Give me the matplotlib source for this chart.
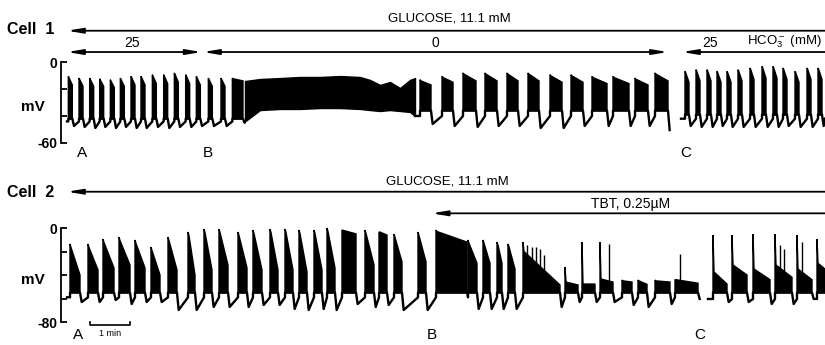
import matplotlib
matplotlib.use("Agg")
import matplotlib.pyplot as plt

plt.rcParams['font.family'] = ['Liberation Sans', 'DejaVu Sans']
plt.rcParams['mathtext.fontset'] = 'custom'
plt.rcParams['mathtext.rm'] = 'Liberation Sans'

# time in s from start of the records (scale bar = 1 min), membrane potential in mV
T_END = 1137

# ---------------- Cell 1 ----------------
# 25 mM HCO3-, short bursts
c1a_on = [2, 18, 34, 49, 65, 80, 96, 111, 128, 145, 161, 178, 194, 212, 231, 248]
c1a_off = [8, 24, 40, 55, 71, 86, 102, 117, 134, 151, 167, 184, 200, 218, 237, 264]
c1a_peak = [-10.6, -11.9, -11.9, -12.4, -13.1, -11.9, -10.6, -10.6, -9.4, -9.4, -8.1, -9.4, -10.6, -11.9, -11.9, -11.9]
c1a_knee = [-11.6, -12.9, -12.9, -13.4, -14.1, -12.9, -11.6, -11.6, -10.4, -10.4, -9.1, -10.4, -11.6, -12.9, -12.9, -12.4]
c1a_end = [-17, -18, -18, -18, -19, -18, -17, -17, -16, -16, -15, -16, -17, -18, -18, -14]
c1a_trough = [-47.4, -48.1, -48.9, -48.1, -48.9, -48.1, -48.9, -48.9, -48.1, -48.9, -48.1, -48.1, -47.4, -47.4, -47.4, -45]

# 0 HCO3-, continuous spiking
c1b_t = [267, 289.5, 319.5, 349.5, 379.5, 409.5, 439.5, 454.5, 469.5, 484.5, 499.5, 514.5, 522]
c1b_top = [-14.1, -12.6, -11.9, -11.1, -11.1, -10.4, -11.1, -13.3, -17, -14.8, -19.3, -13.3, -11.9]
c1b_bot = [-44, -35.6, -34.8, -34.8, -34.1, -34.1, -34.8, -35.6, -36.3, -35.6, -36.3, -37, -40]

# 0 HCO3-, long bursts
c1c_on = [529.5, 562.5, 594, 627, 660, 691.5, 724.5, 756, 787.5, 819, 852, 882]
c1c_off = [546, 579, 613.5, 645, 676.5, 708, 742.5, 774, 810, 843, 871.5, 901.5]
c1c_peak = [-13.1, -10.6, -8.1, -8.1, -8.1, -8.1, -9.4, -9.4, -10.6, -10.6, -11.9, -8.1]
c1c_knee = [-14, -11.5, -9, -9, -9, -9, -10.3, -10.3, -11.5, -11.5, -12.8, -9]
c1c_end = [-17, -15, -14, -14, -14, -14, -15, -15, -16, -16, -17, -14]
c1c_trough = [-45.9, -47.4, -48.1, -47.4, -47.4, -48.9, -48.9, -47.4, -47.4, -47.4, -47.4, -50.4]

# back to 25 mM HCO3-
c1d_on = [927, 943.5, 960, 975, 990, 1006.5, 1024.5, 1042.5, 1059, 1074, 1092, 1110, 1126.5]
c1d_off = [933, 949.5, 966, 981, 996, 1012.5, 1030.5, 1048.5, 1065, 1080, 1098, 1116, 1132.5]
c1d_peak = [-6.9, -5.7, -5.7, -6.9, -6.9, -5.7, -4.4, -3.2, -3.2, -4.4, -6.9, -4.4, -4.4]
c1d_knee = [-7.9, -6.7, -6.7, -7.9, -7.9, -6.7, -5.4, -4.2, -4.2, -5.4, -7.9, -5.4, -5.4]
c1d_end = [-15, -14, -14, -15, -15, -14, -13, -12, -12, -13, -15, -13, -13]
c1d_trough = [-47.4, -48.1, -48.1, -47.4, -48.1, -48.1, -48.1, -48.1, -48.1, -47.4, -48.1, -48.1, -47.4]

c1_cond_start = [0, 204, 922.5]
c1_cond_end = [202, 901.5, 1150]
c1_cond_label = ['25', '0', '25']
c1_cond_label_t = [98, 552, 964]
c1_marks = ['A', 'B', 'C']
c1_marks_t = [22.5, 211.5, 928.5]

# ---------------- Cell 2 ----------------
c2a_on = [4.5, 31.5, 54, 78, 102, 126, 151.5, 181.5, 205.5, 228, 256.5, 279, 304.5, 327, 348, 370.5,
          390, 412.5, 447, 468, 490.5, 526.5, 553.5, 601.5, 624, 645, 661.5, 684, 747, 772.5, 799.5,
          832.5, 856.5, 882, 912]
c2a_off = [19.5, 46.5, 70.5, 94.5, 117, 139.5, 165, 192, 217.5, 241.5, 270, 292.5, 316.5, 339, 360, 382.5,
           402, 433.5, 460.5, 480, 502.5, 538.5, 600, 615, 634.5, 652.5, 672, 739.5, 766.5, 792, 819,
           847.5, 870, 904.5, 946.5]
c2a_peak = [-13.6, -13.6, -9.4, -7.7, -10.2, -16.2, -7.7, -3.4, -0.9, -0.9, -3.4, -1.7, -0.9, -0.9, -1.7, -1.7,
            0, -1.7, -1.7, -3.4, -5.1, -3.4, -1.7, -10.2, -10.2, -11.9, -13.6, -11.9, -33.2, -11.9, -11.9,
            -44.3, -44.3, -44.3, -44]
c2a_knee = [-16.6, -16.6, -12.4, -10.7, -13.2, -19.2, -10.7, -6.4, -3.9, -3.9, -6.4, -4.7, -3.9, -3.9, -4.7, -4.7,
            -3, -2, -4.7, -3.5, -8, -6.4, -3, -13, -13, -14.5, -16, -20, -46, -47.7, -43.4,
            -45, -45, -45, -44]
c2a_end = [-40, -35.7, -34, -31.5, -34, -40, -35.7, -40, -35.7, -31.5, -34, -35.7, -35.7, -35.7, -37.4, -35.7,
           -34, -5, -31.5, -6, -28.9, -28.9, -12, -30, -30, -30, -35, -48.5, -48.5, -47.7, -46,
           -46, -48, -46, -47]
c2a_trough = [-63, -63, -61.3, -64.7, -63, -63, -69.8, -69.8, -67.2, -67.2, -67.2, -65.5, -65.5, -68.9, -69.8, -68.9,
              -69.8, -64.7, -67.2, -65.5, -69.8, -69.8, -55, -68.9, -68.9, -68.9, -68.9, -67.2, -63, -63, -63,
              -65.5, -67.2, -64.7, -60.4]

c2b_on = [969, 997.5, 1029, 1062, 1095, 1125]
c2b_off = [990, 1020, 1054.5, 1087.5, 1117.5, 1137]
c2b_peak = [-6, -6, -5.1, -5.1, -6, -9.4]
c2b_knee = [-37.4, -31.5, -34.9, -31.5, -34.9, -30]
c2b_end = [-47.7, -40, -44, -42, -44, -35]
c2b_trough = [-63, -63, -64.7, -64.7, -60.4, -55]

# single spikes riding on the TBT bursts
c2_spk_t = [690, 697.5, 703.5, 709.5, 715.5, 813, 919.5, 1069.5, 1075.5, 1102.5]
c2_spk_v = [-14.5, -16.2, -16.2, -17.9, -23, -13.6, -22.1, -14.5, -17.9, -11.9]

c2_tbt_start = 547
c2_marks = ['A', 'B', 'C']
c2_marks_t = [16.5, 547.5, 949.5]


def bursts(ax, on, off, peak, knee, end, trough, low, pre, t0, t1=None, kw=1.5, fall=2.5):
    xs, ys = [t0], [pre]
    for i in range(len(on)):
        ax.fill([on[i], on[i], on[i] + kw, off[i], off[i]],
                [low, peak[i], knee[i], end[i], low],
                color='k', lw=1.0, zorder=2, clip_on=False)
        f = fall
        if i + 1 < len(on):
            f = min(fall, (on[i + 1] - off[i]) / 2)
        xs += [on[i], on[i], off[i], off[i] + f]
        ys += [pre, low, low, trough[i]]
    if t1 is not None:
        xs.append(t1)
        ys.append(pre)
    ax.plot(xs, ys, color='k', lw=1.7, solid_joinstyle='round', zorder=2, clip_on=False)


def hline_arrow(ax, x0, x1, y, both=False):
    style = '<|-|>' if both else '-|>'
    if both:
        xy, xyt = (x1, y), (x0, y)
    else:
        xy, xyt = (x0, y), (x1, y)
    ax.annotate('', xy=xy, xytext=xyt, xycoords=('data', 'axes fraction'),
                textcoords=('data', 'axes fraction'), annotation_clip=False,
                arrowprops=dict(arrowstyle=style + ',head_length=0.9,head_width=0.15',
                                color='k', lw=1.3, shrinkA=0, shrinkB=0))


def style_axis(ax, lo):
    ax.set_xlim(0, T_END)
    ax.set_ylim(lo, 0)
    for s in ['top', 'right', 'bottom']:
        ax.spines[s].set_visible(False)
    ax.spines['left'].set_position(('outward', 4))
    ax.spines['left'].set_linewidth(1.3)
    ax.set_xticks([])
    ticks = list(range(lo, 1, 20))
    ax.set_yticks(ticks)
    ax.set_yticklabels([str(lo)] + [''] * (len(ticks) - 2) + ['0'], fontweight='bold')
    ax.tick_params(axis='y', direction='in', length=4, width=1.3, pad=3, labelsize=10)
    ax.set_ylabel('mV', rotation=0, fontsize=11, fontweight='bold', va='center', ha='center')
    ax.yaxis.set_label_coords(-0.045, 0.45)


fig = plt.figure(figsize=(8.25, 3.45), dpi=100)
ax1 = fig.add_axes([67 / 825, 1 - 143 / 345, 758 / 825, 81 / 345])
ax2 = fig.add_axes([67 / 825, 1 - 322 / 345, 758 / 825, 94 / 345])
style_axis(ax1, -60)
style_axis(ax2, -80)

# cell 1 traces
bursts(ax1, c1a_on, c1a_off, c1a_peak, c1a_knee, c1a_end, c1a_trough, -42, -44, 0, t1=c1b_t[0], kw=1)
ax1.fill_between(c1b_t, c1b_bot, c1b_top, color='k', lw=1.0, zorder=2)
bursts(ax1, c1c_on, c1c_off, c1c_peak, c1c_knee, c1c_end, c1c_trough, -36, -40, c1b_t[-1])
bursts(ax1, c1d_on, c1d_off, c1d_peak, c1d_knee, c1d_end, c1d_trough, -39, -42, 921, t1=T_END, kw=1)

# cell 2 traces
bursts(ax2, c2a_on, c2a_off, c2a_peak, c2a_knee, c2a_end, c2a_trough, -55, -59, 0)
bursts(ax2, c2b_on, c2b_off, c2b_peak, c2b_knee, c2b_end, c2b_trough, -55, -60.4, 961.5)
ax2.vlines(c2_spk_t, -48, c2_spk_v, color='k', lw=1.0, zorder=2)

# cell 1 annotations
fig.text(7 / 825, 1 - 30 / 345, 'Cell  1', fontsize=11.5, fontweight='bold', va='center')
hline_arrow(ax1, 0, 1150, 1.386)
ax1.text(573, 1.531, 'GLUCOSE, 11.1 mM', transform=ax1.get_xaxis_transform(),
         ha='center', va='center', fontsize=9.5)
for s, e, lab, lt in zip(c1_cond_start, c1_cond_end, c1_cond_label, c1_cond_label_t):
    hline_arrow(ax1, s, e, 1.123, both=(e < T_END))
    ax1.text(lt, 1.24, lab, transform=ax1.get_xaxis_transform(), ha='center', va='center', fontsize=10)
ax1.text(1132, 1.25, r'HCO$_3^-$ (mM)', transform=ax1.get_xaxis_transform(),
         ha='right', va='center', fontsize=9.5)
for m, t in zip(c1_marks, c1_marks_t):
    ax1.text(t, -0.12, m, transform=ax1.get_xaxis_transform(), ha='center', va='center', fontsize=11)

# cell 2 annotations
fig.text(7 / 825, 1 - 192.5 / 345, 'Cell  2', fontsize=11.5, fontweight='bold', va='center')
hline_arrow(ax2, 0, 1150, 1.386)
ax2.text(570, 1.5, 'GLUCOSE, 11.1 mM', transform=ax2.get_xaxis_transform(),
         ha='center', va='center', fontsize=9.5)
hline_arrow(ax2, c2_tbt_start, 1150, 1.156)
ax2.text(846, 1.255, 'TBT, 0.25\u00b5M', transform=ax2.get_xaxis_transform(),
         ha='center', va='center', fontsize=10)
for m, t in zip(c2_marks, c2_marks_t):
    ax2.text(t, -0.14, m, transform=ax2.get_xaxis_transform(), ha='center', va='center', fontsize=11)

# 1 min scale bar
ax2.plot([34.5, 34.5, 94.5, 94.5], [-0.005, -0.035, -0.035, -0.005], color='k', lw=1.2,
         transform=ax2.get_xaxis_transform(), clip_on=False)
ax2.text(64.5, -0.12, '1 min', transform=ax2.get_xaxis_transform(), ha='center', va='center', fontsize=6.5)

fig.savefig('out.png', dpi=100)
